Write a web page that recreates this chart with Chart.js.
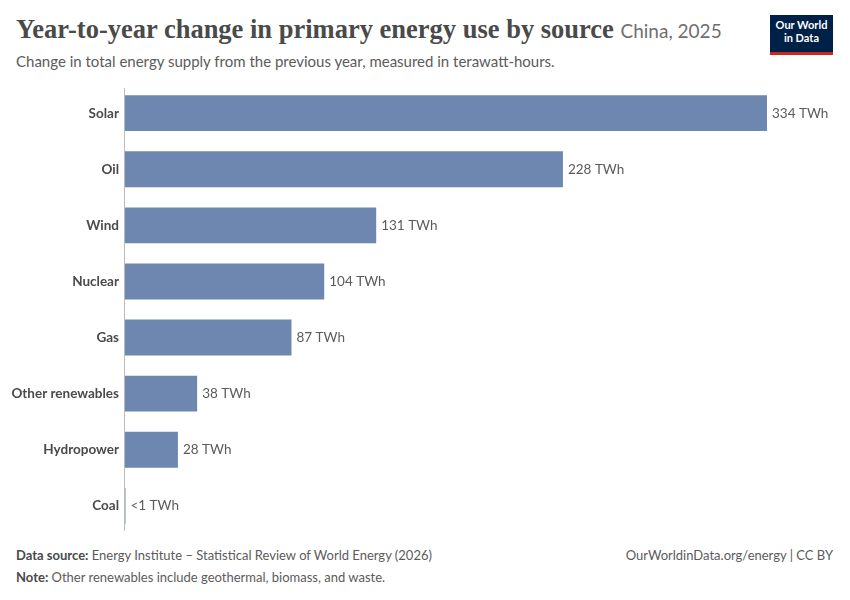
<!DOCTYPE html>
<html>
<head>
<meta charset="utf-8">
<script src="https://cdn.jsdelivr.net/npm/chart.js@4/dist/chart.umd.min.js"></script>
<style>
  body { margin: 0; width: 850px; height: 600px; background: #fff; font-family: Lato, sans-serif; position: relative; overflow: hidden; }
  #title { position: absolute; left: 16px; top: 14px; font-family: "Liberation Serif", "DejaVu Serif", serif; font-size: 26.5px; font-weight: bold; color: #4a4a4a; }
  #title span { font-family: Lato, sans-serif; font-weight: normal; font-size: 19px; color: #6e6e6e; }
  #sub { position: absolute; left: 16px; top: 52px; font-size: 15px; color: #5b5b5b; }
  #logo { position: absolute; left: 770px; top: 15px; width: 63px; height: 34px; background: #002147; border-bottom: 3px solid #ce261e; color: #fff; font-size: 11px; font-weight: bold; text-align: center; line-height: 13px; padding-top: 3px; box-sizing: content-box; }
  #wrap { position: absolute; left: 0; top: 80px; width: 850px; height: 459px; }
  .foot { position: absolute; font-size: 13px; color: #5b5b5b; }
  .foot b { color: #4a4a4a; }
</style>
</head>
<body>
<div id="title">Year-to-year change in primary energy use by source <span>China, 2025</span></div>
<div id="sub">Change in total energy supply from the previous year, measured in terawatt-hours.</div>
<div id="logo">Our World<br>in Data</div>
<div id="wrap"><canvas id="c"></canvas></div>
<div class="foot" style="left:16px;top:547px"><b>Data source:</b> Energy Institute – Statistical Review of World Energy (2026)</div>
<div class="foot" style="right:17px;top:547px">OurWorldinData.org/energy | CC BY</div>
<div class="foot" style="left:16px;top:569px"><b>Note:</b> Other renewables include geothermal, biomass, and waste.</div>
<script>
const sources = ["Solar", "Oil", "Wind", "Nuclear", "Gas", "Other renewables", "Hydropower", "Coal"];
const changeTWh = [334, 228, 131, 104, 87, 38, 28, 0.5];
const valueLabels = ["334 TWh", "228 TWh", "131 TWh", "104 TWh", "87 TWh", "38 TWh", "28 TWh", "<1 TWh"];

const extras = {
  id: "extras",
  afterDatasetsDraw(chart) {
    const ctx = chart.ctx, x = chart.scales.x;
    ctx.save();
    ctx.strokeStyle = "#bbb";
    ctx.lineWidth = 1;
    ctx.beginPath();
    ctx.moveTo(x.getPixelForValue(0) + 0.5, chart.chartArea.top + 3);
    ctx.lineTo(x.getPixelForValue(0) + 0.5, chart.chartArea.bottom - 3);
    ctx.stroke();
    ctx.fillStyle = "#5b5b5b";
    ctx.font = "13.5px Lato";
    ctx.textBaseline = "middle";
    chart.getDatasetMeta(0).data.forEach((bar, i) => {
      ctx.fillText(valueLabels[i], bar.x + 5, bar.y);
    });
    ctx.restore();
  }
};

new Chart(document.getElementById("c"), {
  type: "bar",
  data: {
    labels: sources,
    datasets: [{ data: changeTWh, backgroundColor: "#6d87b0", barPercentage: 0.8, categoryPercentage: 0.8, minBarLength: 1.5 }]
  },
  options: {
    indexAxis: "y",
    responsive: true,
    maintainAspectRatio: false,
    animation: false,
    layout: { padding: { right: 83, top: 0, bottom: 0 } },
    plugins: { legend: { display: false }, tooltip: { enabled: false } },
    scales: {
      x: { display: false, min: 0, max: 334 },
      y: {
        grid: { display: false },
        border: { display: false },
        ticks: { color: "#4a4a4a", font: { family: "Lato", size: 13.5, weight: "bold" }, padding: -3 },
        afterFit(s) { s.width = 124; }
      }
    }
  },
  plugins: [extras]
});
</script>
</body>
</html>
